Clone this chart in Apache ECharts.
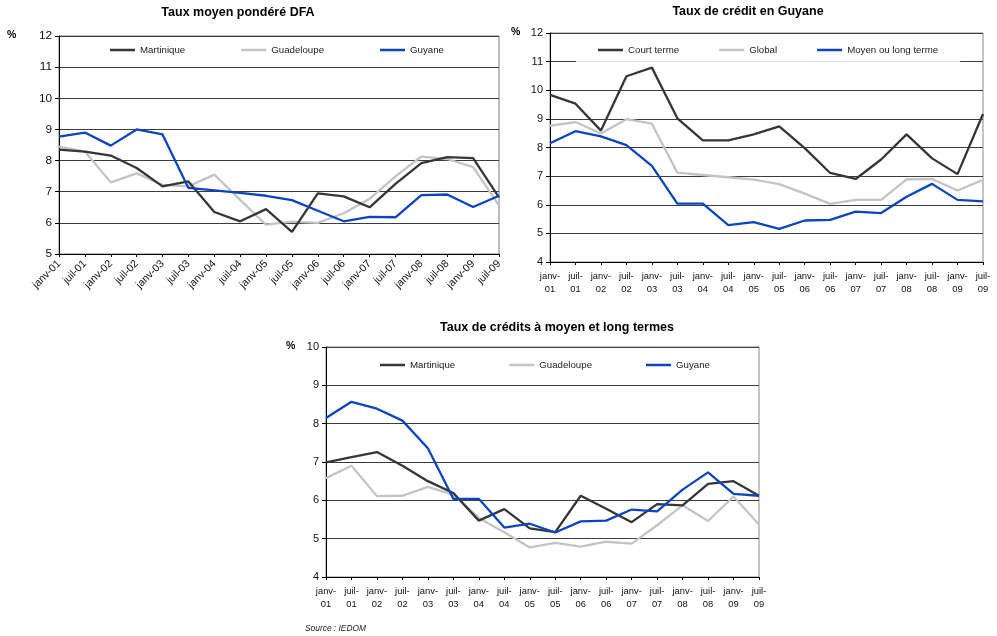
<!DOCTYPE html>
<html>
<head>
<meta charset="utf-8">
<script src="https://cdn.jsdelivr.net/npm/echarts@6/dist/echarts.min.js"></script>
<style>
  html, body { margin: 0; padding: 0; background: #fff; }
  #chart { width: 997px; height: 636px; }
</style>
</head>
<body>
<div id="chart"></div>
<script>
// Half-yearly observation dates
const periods = ['janv-01','juil-01','janv-02','juil-02','janv-03','juil-03','janv-04','juil-04','janv-05',
                 'juil-05','janv-06','juil-06','janv-07','juil-07','janv-08','juil-08','janv-09','juil-09'];

// Taux moyen pondéré DFA (%)
const dfaMartinique = [8.35, 8.29, 8.16, 7.76, 7.17, 7.33, 6.35, 6.05, 6.44, 5.71, 6.95, 6.85, 6.50, 7.25, 7.92, 8.11, 8.08, 6.82];
const dfaGuadeloupe = [8.45, 8.29, 7.30, 7.59, 7.22, 7.17, 7.55, 6.74, 5.94, 6.04, 6.00, 6.31, 6.77, 7.49, 8.13, 8.05, 7.79, 6.56];
const dfaGuyane     = [8.77, 8.90, 8.48, 9.00, 8.84, 7.12, 7.04, 6.96, 6.87, 6.73, 6.39, 6.05, 6.19, 6.18, 6.89, 6.91, 6.51, 6.87];

// Taux de crédit en Guyane (%)
const guyCourtTerme = [9.84, 9.53, 8.59, 10.49, 10.79, 9.02, 8.25, 8.25, 8.46, 8.74, 7.98, 7.11, 6.90, 7.58, 8.46, 7.62, 7.07, 9.17];
const guyGlobal     = [8.76, 8.89, 8.49, 8.99, 8.83, 7.12, 7.04, 6.96, 6.88, 6.72, 6.39, 6.03, 6.17, 6.17, 6.89, 6.90, 6.50, 6.87];
const guyMoyenLong  = [8.15, 8.57, 8.39, 8.08, 7.36, 6.04, 6.04, 5.29, 5.39, 5.16, 5.45, 5.47, 5.76, 5.71, 6.28, 6.73, 6.17, 6.12];

// Taux de crédits à moyen et long termes (%)
const mltMartinique = [6.99, 7.13, 7.26, 6.90, 6.50, 6.19, 5.47, 5.77, 5.27, 5.17, 6.12, 5.78, 5.43, 5.90, 5.87, 6.43, 6.50, 6.12];
const mltGuadeloupe = [6.58, 6.90, 6.11, 6.12, 6.35, 6.15, 5.54, 5.17, 4.77, 4.89, 4.79, 4.92, 4.87, 5.35, 5.87, 5.46, 6.10, 5.37];
const mltGuyane     = guyMoyenLong;

const FONT = 'Liberation Sans, Arial, sans-serif';
const DARK = '#363636', LIGHT = '#c4c4c4', BLUE = '#0b45c2';

const chart = echarts.init(document.getElementById('chart'), null, { renderer: 'canvas' });

function xAxis(gridIndex, rotated) {
  return {
    type: 'category', gridIndex, data: periods, boundaryGap: false,
    axisLine: { lineStyle: { color: '#000', width: 1 } },
    axisTick: { show: true, length: 3, lineStyle: { color: '#000' } },
    axisLabel: rotated
      ? { rotate: 45, margin: 8, fontFamily: FONT, fontSize: 10.6, color: '#111', interval: 0 }
      : { margin: 8, fontFamily: FONT, fontSize: 9.4, lineHeight: 13, color: '#111', interval: 0,
          formatter: v => v.replace('-', '-\n') },
    splitLine: { show: false }
  };
}

function yAxis(gridIndex, min, max, fontSize) {
  return {
    type: 'value', gridIndex, min, max, interval: 1,
    axisLine: { show: true, lineStyle: { color: '#000', width: 1 } },
    axisTick: { show: true, length: 4, lineStyle: { color: '#000' } },
    axisLabel: { margin: 7, fontFamily: FONT, fontSize, color: '#111' },
    splitLine: { show: true, lineStyle: { color: '#3c3c3c', width: 1 } }
  };
}

function line(name, data, color, idx) {
  return {
    type: 'line', name, data, xAxisIndex: idx, yAxisIndex: idx,
    symbol: 'none', showSymbol: false, smooth: false,
    lineStyle: { color, width: 2.3 }, itemStyle: { color },
    z: color === LIGHT ? 2 : (color === DARK ? 3 : 4)
  };
}

function legend(names, left, top, gap, extra) {
  return Object.assign({
    data: names, left, top, orient: 'horizontal', padding: 0,
    icon: 'rect', itemWidth: 25, itemHeight: 2.5, itemGap: gap, selectedMode: false,
    textStyle: { fontFamily: FONT, fontSize: 9.7, color: '#222', lineHeight: 12 }
  }, extra || {});
}

function title(text, cx, top) {
  return {
    text, left: cx, top, textAlign: 'center', padding: 0,
    textStyle: { fontFamily: FONT, fontWeight: 'bold', fontSize: 12.5, color: '#000' }
  };
}

function pct(x, y) {
  return { type: 'text', left: x, top: y,
           style: { text: '%', fontFamily: FONT, fontWeight: 'bold', fontSize: 10.5, fill: '#000' } };
}

chart.setOption({
  animation: false,
  backgroundColor: '#fff',
  title: [
    title('Taux moyen pondéré DFA', 238, 6),
    title('Taux de crédit en Guyane', 748, 5),
    title('Taux de crédits à moyen et long termes', 557, 321)
  ],
  grid: [
    { left: 59, top: 36, width: 440, height: 218, show: true, borderColor: '#7a7a7a', borderWidth: 1 },
    { left: 550, top: 33, width: 433, height: 229, show: true, borderColor: '#8a8a8a', borderWidth: 1 },
    { left: 326, top: 347, width: 433, height: 230, show: true, borderColor: '#8a8a8a', borderWidth: 1 }
  ],
  xAxis: [xAxis(0, true), xAxis(1, false), xAxis(2, false)],
  yAxis: [yAxis(0, 5, 12, 11.8), yAxis(1, 4, 12, 11), yAxis(2, 4, 10, 11)],
  legend: [
    legend(['Martinique', 'Guadeloupe', 'Guyane'], 110, 44, 56),
    legend(['Court terme', 'Global', 'Moyen ou long terme'], 576, 36, 40,
           { padding: [8, 22, 8, 22], backgroundColor: 'rgba(255,255,255,0.85)' }),
    legend(['Martinique', 'Guadeloupe', 'Guyane'], 380, 359, 54)
  ],
  series: [
    line('Guadeloupe', dfaGuadeloupe, LIGHT, 0),
    line('Martinique', dfaMartinique, DARK, 0),
    line('Guyane', dfaGuyane, BLUE, 0),
    line('Global', guyGlobal, LIGHT, 1),
    line('Court terme', guyCourtTerme, DARK, 1),
    line('Moyen ou long terme', guyMoyenLong, BLUE, 1),
    line('Guadeloupe', mltGuadeloupe, LIGHT, 2),
    line('Martinique', mltMartinique, DARK, 2),
    line('Guyane', mltGuyane, BLUE, 2)
  ],
  graphic: [
    pct(7, 30),
    pct(511, 27),
    pct(286, 341),
    { type: 'text', left: 305, top: 625,
      style: { text: 'Source : IEDOM', fontFamily: FONT, fontStyle: 'italic', fontSize: 8.4, fill: '#222' } }
  ]
});
</script>
</body>
</html>
